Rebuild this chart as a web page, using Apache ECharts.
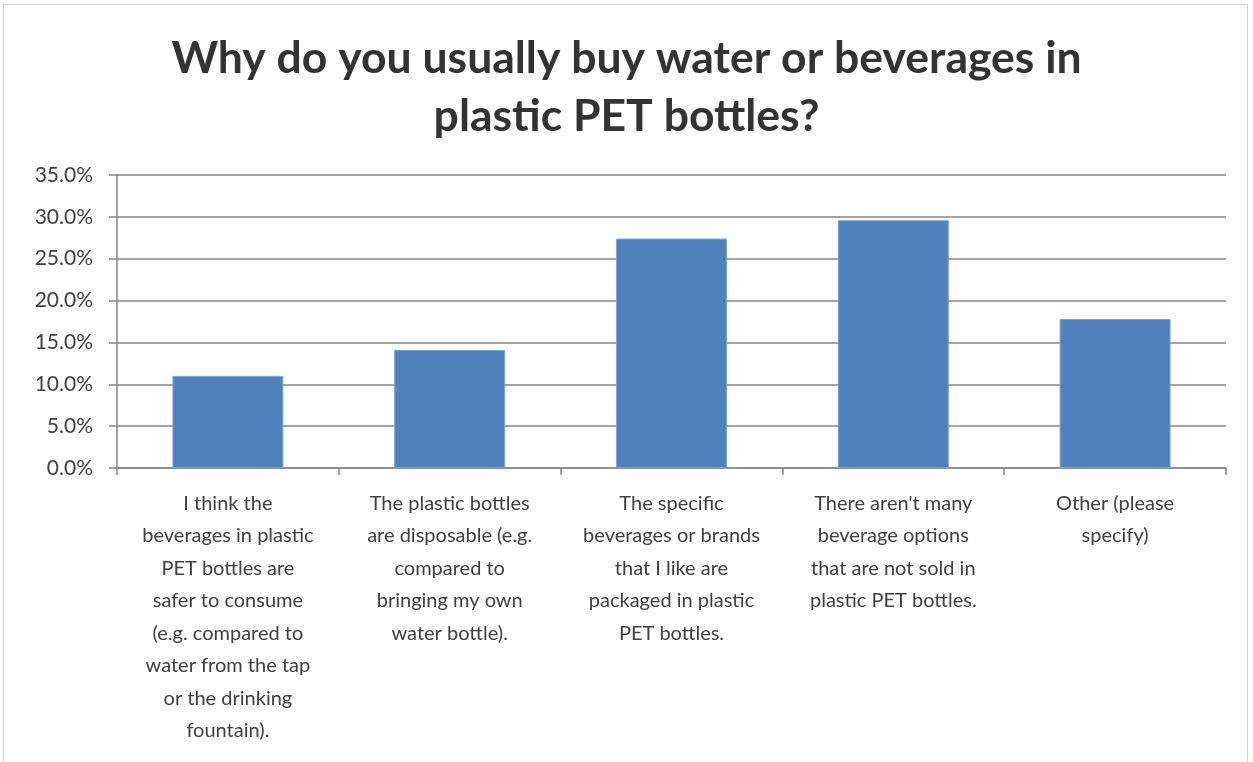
<!DOCTYPE html>
<html>
<head>
<meta charset="utf-8">
<script src="https://cdn.jsdelivr.net/npm/echarts@6/dist/echarts.min.js"></script>
<style>
  html, body { margin: 0; padding: 0; background: #fff; }
  #chart { width: 1253px; height: 762px; }
</style>
</head>
<body>
<div id="chart"></div>
<script>
// Survey answers (category labels with their wrapping)
const categories = [
  "I think the\nbeverages in plastic\nPET bottles are\nsafer to consume\n(e.g. compared to\nwater from the tap\nor the drinking\nfountain).",
  "The plastic bottles\nare disposable (e.g.\ncompared to\nbringing my own\nwater bottle).",
  "The specific\nbeverages or brands\nthat I like are\npackaged in plastic\nPET bottles.",
  "There aren't many\nbeverage options\nthat are not sold in\nplastic PET bottles.",
  "Other (please\nspecify)"
];
// Share of respondents, percent
const shares = [11.0, 14.1, 27.4, 29.6, 17.8];
const titleText = "Why do you usually buy water or beverages in\nplastic PET bottles?";

const fontFamily = "Lato, 'Open Sans', sans-serif";
const chart = echarts.init(document.getElementById('chart'), null, { renderer: 'canvas' });

chart.setOption({
  backgroundColor: '#ffffff',
  animation: false,
  title: {
    text: titleText,
    left: 'center',
    top: 25,
    textStyle: {
      fontFamily: fontFamily,
      fontWeight: 'bold',
      fontSize: 44.5,
      lineHeight: 58,
      color: '#333333'
    }
  },
  grid: { left: 117, right: 27, top: 175, bottom: 294, containLabel: false },
  xAxis: {
    type: 'category',
    data: categories,
    axisLine: { lineStyle: { color: '#868686', width: 1.5 } },
    axisTick: { show: true, length: 7, lineStyle: { color: '#868686', width: 1.5 } },
    axisLabel: {
      interval: 0,
      margin: 19,
      fontFamily: fontFamily,
      fontSize: 20,
      lineHeight: 32.5,
      color: '#404040',
      align: 'center'
    }
  },
  yAxis: {
    type: 'value',
    min: 0,
    max: 35,
    interval: 5,
    axisLine: { show: true, lineStyle: { color: '#868686', width: 1.5 } },
    axisTick: { show: true, length: 8, lineStyle: { color: '#868686', width: 1.5 } },
    splitLine: { lineStyle: { color: '#868686', width: 1.5 } },
    axisLabel: {
      margin: 24,
      fontFamily: fontFamily,
      fontSize: 21,
      color: '#404040',
      formatter: v => v.toFixed(1) + '%'
    }
  },
  graphic: [{
    type: 'rect',
    shape: { x: 3.5, y: 4.5, width: 1244, height: 770 },
    style: { fill: 'none', stroke: '#d0d0d0', lineWidth: 1 },
    silent: true
  }],
  series: [{
    type: 'bar',
    data: shares,
    barWidth: '50%',
    itemStyle: { color: '#4f81bd', borderColor: '#7ea1cf', borderWidth: 1 }
  }]
});
</script>
</body>
</html>
